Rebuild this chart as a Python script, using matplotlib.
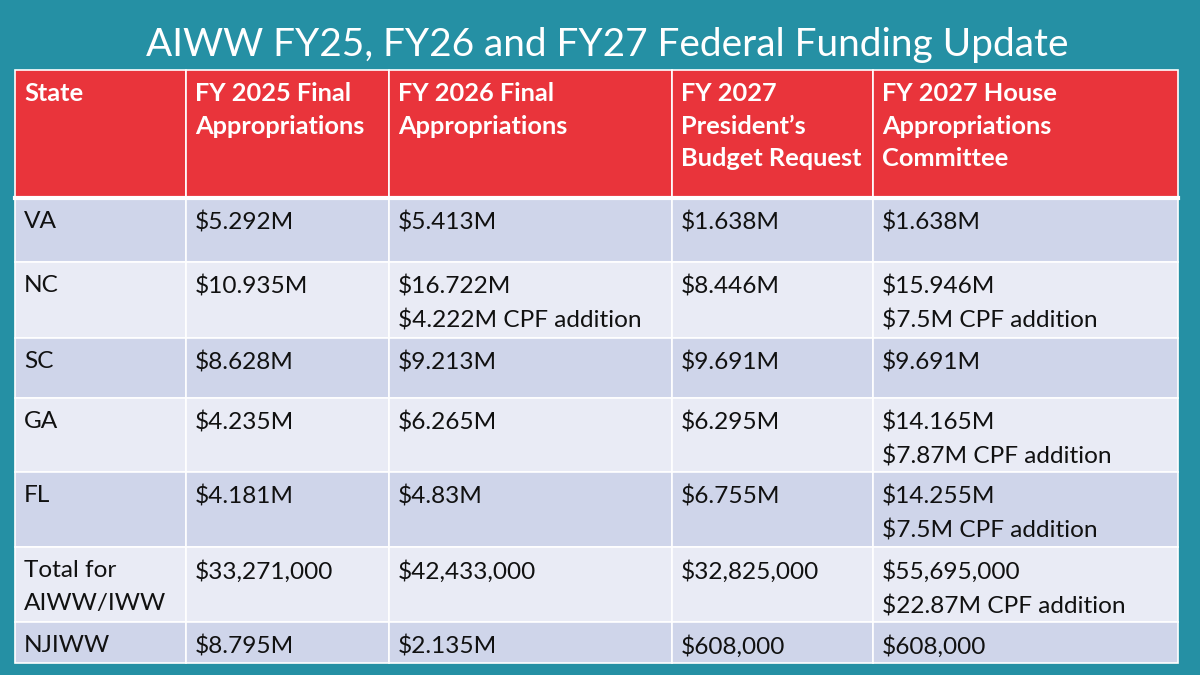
import matplotlib
matplotlib.use("Agg")
import matplotlib.pyplot as plt
from matplotlib.patches import Rectangle

title = "AIWW FY25, FY26 and FY27 Federal Funding Update"
headers = ["State", "FY 2025 Final\nAppropriations", "FY 2026 Final\nAppropriations",
           "FY 2027\nPresident\u2019s\nBudget Request", "FY 2027 House\nAppropriations\nCommittee"]
states = ["VA", "NC", "SC", "GA", "FL", "Total for\nAIWW/IWW", "NJIWW"]
fy2025 = ["$5.292M", "$10.935M", "$8.628M", "$4.235M", "$4.181M", "$33,271,000", "$8.795M"]
fy2026 = ["$5.413M", "$16.722M\n$4.222M CPF addition", "$9.213M", "$6.265M", "$4.83M",
          "$42,433,000", "$2.135M"]
fy2027_pres = ["$1.638M", "$8.446M", "$9.691M", "$6.295M", "$6.755M", "$32,825,000", "$608,000"]
fy2027_house = ["$1.638M", "$15.946M\n$7.5M CPF addition", "$9.691M",
                "$14.165M\n$7.87M CPF addition", "$14.255M\n$7.5M CPF addition",
                "$55,695,000\n$22.87M CPF addition", "$608,000"]

columns = [states, fy2025, fy2026, fy2027_pres, fy2027_house]

# layout (pixels)
col_edges = [15, 186, 389, 672, 873, 1178]
row_edges = [70, 198, 262, 338, 398, 472, 547, 622, 663]

bg = "#2590a4"
red = "#e9343b"
dark_row = "#cfd5ea"
light_row = "#e9ebf5"

fam = ['Lato', 'DejaVu Sans']
plt.rcParams['font.family'] = fam

fig = plt.figure(figsize=(12, 6.75), dpi=100)
fig.patch.set_facecolor(bg)
ax = fig.add_axes([0, 0, 1, 1])
ax.set_xlim(0, 1200)
ax.set_ylim(675, 0)
ax.axis("off")

ax.text(607, 45, title, ha="center", va="center", color="white", fontsize=27.9)

nrows = len(states)
for r in range(nrows + 1):
    y0, y1 = row_edges[r], row_edges[r + 1]
    if r == 0:
        color = red
    else:
        color = dark_row if r % 2 == 1 else light_row
    for c in range(len(columns)):
        x0, x1 = col_edges[c], col_edges[c + 1]
        ax.add_patch(Rectangle((x0, y0), x1 - x0, y1 - y0, facecolor=color,
                               edgecolor="white", linewidth=1.2))
        if r == 0:
            txt = headers[c]
            ax.text(x0 + 9, y0 + 12, txt, ha="left", va="top", color="white",
                    fontsize=18.3, fontweight="bold", linespacing=1.51)
        else:
            txt = columns[c][r - 1]
            ax.text(x0 + 9, y0 + 13, txt, ha="left", va="top", color="#111111",
                    fontsize=17.6, linespacing=1.7)

# separator under header
ax.plot([col_edges[0], col_edges[-1]], [row_edges[1], row_edges[1]], color="white", lw=3)

fig.savefig("out.png", dpi=100, facecolor=bg)
